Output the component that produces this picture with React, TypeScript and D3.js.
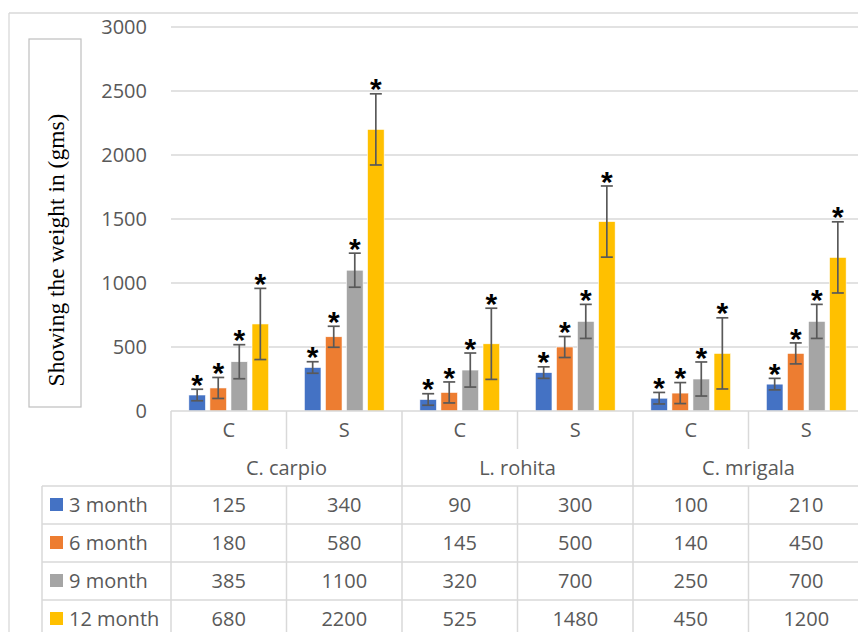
import * as d3 from "d3";
import React from "react";

// species groups and sub-categories (C = control, S = supplemented)
const groups = ["C. carpio", "L. rohita", "C. mrigala"];
const subs = ["C", "S"];
const seriesNames = ["3 month", "6 month", "9 month", "12 month"];
const colors = ["#4472C4", "#ED7D31", "#A5A5A5", "#FFC000"];

// values per series, order: carpio C, carpio S, rohita C, rohita S, mrigala C, mrigala S
const month3 = [125, 340, 90, 300, 100, 210];
const month6 = [180, 580, 145, 500, 140, 450];
const month9 = [385, 1100, 320, 700, 250, 700];
const month12 = [680, 2200, 525, 1480, 450, 1200];

// error bar half-widths
const err3 = [45, 45, 45, 45, 45, 45];
const err6 = [82, 82, 82, 82, 82, 82];
const err9 = [133, 133, 133, 133, 133, 133];
const err12 = [278, 278, 278, 278, 278, 278];

const yTicks = [0, 500, 1000, 1500, 2000, 2500, 3000];

const W = 858;
const H = 632;
const font = "'Open Sans', 'Noto Sans', sans-serif";
const textColor = "#595959";
const lineColor = "#D9D9D9";

export default function App() {
  const values = [month3, month6, month9, month12];
  const errors = [err3, err6, err9, err12];
  const cats = groups.flatMap((g) => subs.map((s) => `${g}|${s}`));

  const plotLeft = 171;
  const plotRight = 864;
  const top = 27;
  const base = 411;

  const x = d3.scaleBand<string>().domain(cats).range([plotLeft, plotRight]);
  const y = d3.scaleLinear().domain([0, 3000]).range([base, top]);
  const inner = d3
    .scaleBand<string>()
    .domain(seriesNames)
    .range([-42, 42])
    .paddingInner(0.21)
    .paddingOuter(0.1);

  const step = x.step();
  const catRowBottom = 449;
  const groupRowBottom = 486;
  const rowH = 38;
  const tableLeft = 42;

  return (
    <svg width={W} height={H} style={{ position: "absolute", left: 0, top: 0 }}>
      <rect width={W} height={H} fill="#fff" />
      {/* chart outer border */}
      <line x1={9} x2={W} y1={13} y2={13} stroke={lineColor} strokeWidth={1.3} />
      <line x1={9} x2={9} y1={13} y2={H} stroke={lineColor} strokeWidth={1.3} />

      {/* gridlines + y labels */}
      {yTicks.map((t) => (
        <g key={t}>
          {t > 0 && (
            <line x1={plotLeft} x2={W} y1={y(t)} y2={y(t)} stroke={lineColor} strokeWidth={1.3} />
          )}
          <text
            x={147}
            y={y(t)}
            dy="0.36em"
            textAnchor="end"
            fontFamily={font}
            fontSize={20}
            fill={textColor}
          >
            {t}
          </text>
        </g>
      ))}

      {/* axis title with box */}
      <rect x={29} y={39} width={52} height={368} fill="#fff" stroke="#BFBFBF" strokeWidth={1.2} />
      <text
        transform={`translate(64,250) rotate(-90)`}
        textAnchor="middle"
        fontFamily="'Liberation Serif', 'Times New Roman', serif"
        fontSize={23.5}
        fill="#000"
      >
        Showing the weight in (gms)
      </text>

      {/* bars */}
      {seriesNames.map((s, si) =>
        cats.map((c, ci) => {
          const v = values[si][ci];
          const e = errors[si][ci];
          const cx = x(c)! + step / 2;
          const bx = cx + inner(s)!;
          const bw = inner.bandwidth();
          const mid = bx + bw / 2;
          return (
            <g key={`${s}-${c}`}>
              <rect x={bx} y={y(v)} width={bw} height={base - y(v)} fill={colors[si]} stroke="#fff" strokeWidth={0.6} />
              <g stroke="#595959" strokeWidth={1.7}>
                <line x1={mid} x2={mid} y1={y(v + e)} y2={y(v - e)} />
                <line x1={mid - 6} x2={mid + 6} y1={y(v + e)} y2={y(v + e)} />
                <line x1={mid - 6} x2={mid + 6} y1={y(v - e)} y2={y(v - e)} />
              </g>
              <text
                x={mid}
                y={y(v + e) - 13}
                dy="0.62em"
                textAnchor="middle"
                fontFamily="'Liberation Sans', Arial, sans-serif"
                fontWeight="bold"
                fontSize={30}
                fill="#000"
              >
                *
              </text>
            </g>
          );
        })
      )}

      {/* data table lines */}
      <g stroke={lineColor} strokeWidth={1.5}>
        <line x1={plotLeft} x2={W} y1={base} y2={base} />
        <line x1={plotLeft} x2={plotLeft} y1={base} y2={H} />
        {cats.map((c, ci) => {
          const xr = x(c)! + step;
          if (ci === cats.length - 1) return null;
          const isGroupEdge = ci % 2 === 1;
          return (
            <g key={c}>
              <line x1={xr} x2={xr} y1={base} y2={isGroupEdge ? H : catRowBottom} />
              {!isGroupEdge && <line x1={xr} x2={xr} y1={groupRowBottom} y2={H} />}
            </g>
          );
        })}
        {seriesNames.map((s, si) => (
          <line key={s} x1={tableLeft} x2={W} y1={groupRowBottom + si * rowH} y2={groupRowBottom + si * rowH} />
        ))}
        <line x1={tableLeft} x2={tableLeft} y1={groupRowBottom} y2={H} />
      </g>

      {/* category labels */}
      {cats.map((c) => (
        <text
          key={c}
          x={x(c)! + step / 2}
          y={(base + catRowBottom) / 2}
          dy="0.36em"
          textAnchor="middle"
          fontFamily={font}
          fontSize={20}
          fill={textColor}
        >
          {c.split("|")[1]}
        </text>
      ))}
      {groups.map((g) => (
        <text
          key={g}
          x={x(`${g}|C`)! + step}
          y={(catRowBottom + groupRowBottom) / 2}
          dy="0.36em"
          textAnchor="middle"
          fontFamily={font}
          fontSize={20}
          fill={textColor}
        >
          {g}
        </text>
      ))}

      {/* table rows */}
      {seriesNames.map((s, si) => {
        const ry = groupRowBottom + si * rowH + rowH / 2;
        return (
          <g key={s}>
            <rect x={50} y={ry - 7} width={13} height={13} fill={colors[si]} />
            <text x={69} y={ry} dy="0.36em" fontFamily={font} fontSize={20} fill={textColor}>
              {s}
            </text>
            {cats.map((c, ci) => (
              <text
                key={c}
                x={x(c)! + step / 2}
                y={ry}
                dy="0.36em"
                textAnchor="middle"
                fontFamily={font}
                fontSize={20}
                fill={textColor}
              >
                {values[si][ci]}
              </text>
            ))}
          </g>
        );
      })}
    </svg>
  );
}
